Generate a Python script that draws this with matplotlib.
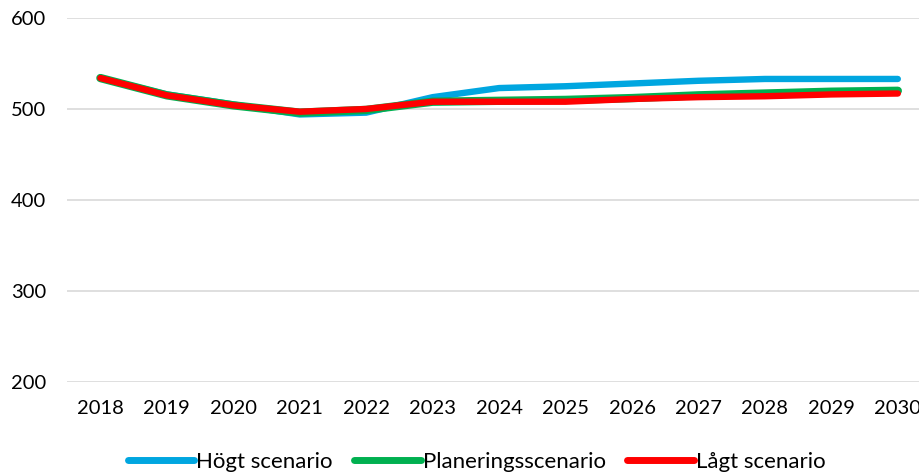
import matplotlib.pyplot as plt

plt.rcParams["font.family"] = ["Lato", "DejaVu Sans"]

years = [2018, 2019, 2020, 2021, 2022, 2023, 2024, 2025, 2026, 2027, 2028, 2029, 2030]
hogt = [534, 516, 505, 494, 496, 513, 523, 525, 528, 531, 533, 533, 533]
planering = [534, 515, 504, 496, 499, 508, 509, 510, 512, 515, 517, 519, 520]
lagt = [534, 515, 504, 497, 500, 508, 508, 508, 511, 513, 514, 516, 517]

series = [
    ("Högt scenario", hogt, "#00a6e0", 4.6),
    ("Planeringsscenario", planering, "#00b050", 6.0),
    ("Lågt scenario", lagt, "#ff0000", 4.6),
]

fig = plt.figure(figsize=(9.2, 4.76), dpi=100)
ax = fig.add_axes([0.073, 0.1975, 0.939, 0.7647])

xs = list(range(len(years)))
for label, vals, color, lw in series:
    ax.plot(xs, vals, color=color, linewidth=lw, label=label,
            solid_capstyle="round", solid_joinstyle="round")

ax.set_xlim(-0.5, len(years) - 0.5)
ax.set_ylim(200, 600)
ax.set_yticks([200, 300, 400, 500, 600])
ax.set_xticks(xs)
ax.set_xticklabels([str(y) for y in years])
ax.grid(axis="y", color="#d9d9d9", linewidth=1.2)
ax.set_axisbelow(True)
for s in ax.spines.values():
    s.set_visible(False)
ax.tick_params(axis="both", length=0, labelsize=14.5, colors="#000000")
ax.tick_params(axis="y", pad=15)
ax.tick_params(axis="x", pad=13)

leg = fig.legend(loc="lower center", bbox_to_anchor=(0.518, -0.033), ncol=3,
                 frameon=False, fontsize=16, handlelength=3.0,
                 handletextpad=0.1, columnspacing=0.95)
for h in leg.get_lines():
    h.set_linewidth(5)
    h.set_solid_capstyle("round")

fig.savefig("out.png", dpi=100)
